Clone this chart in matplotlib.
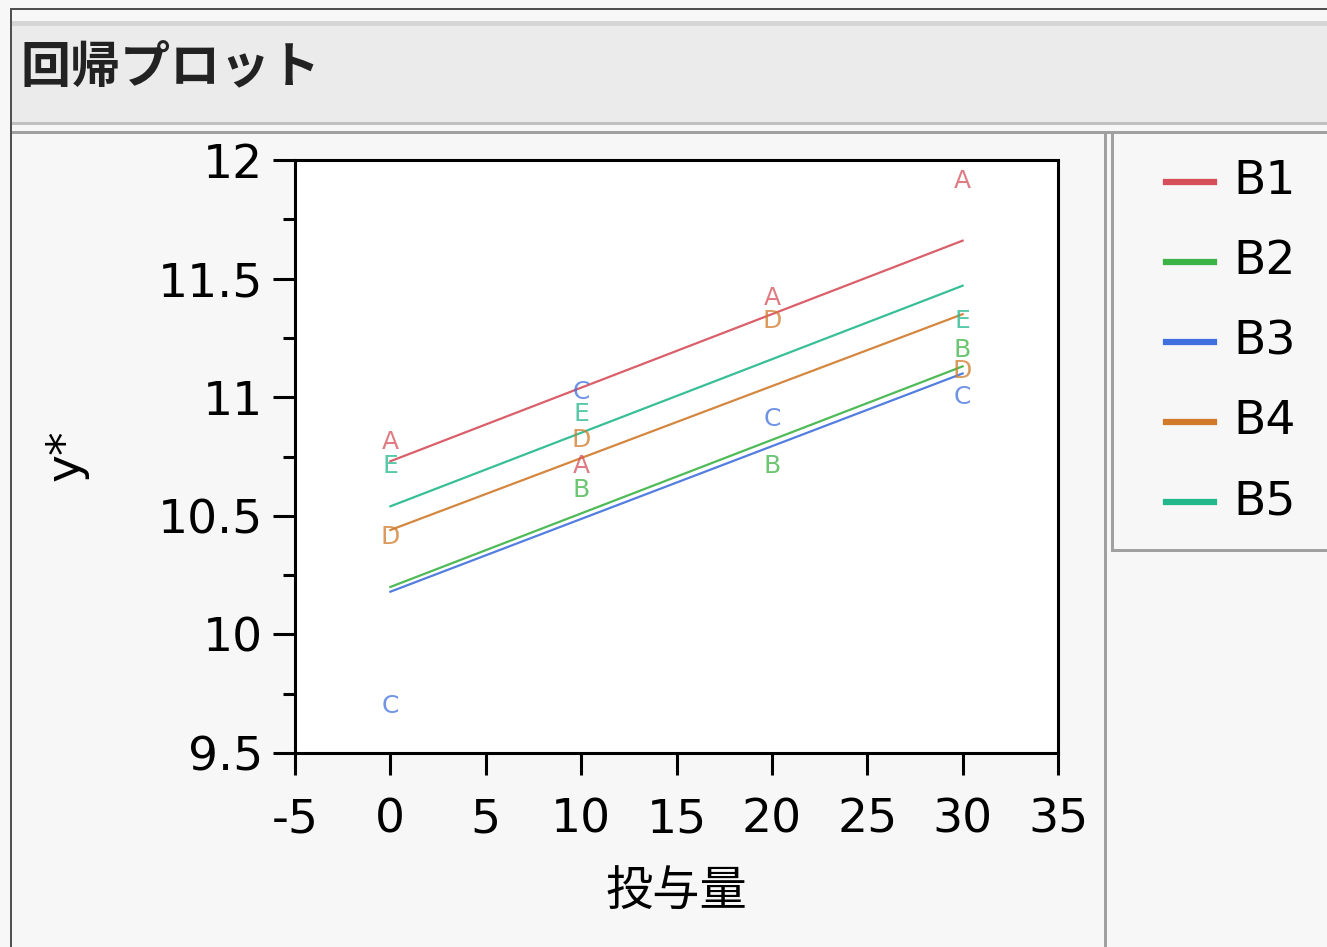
"""回帰プロット (JMP 風) の再現。"""

import numpy as np
import matplotlib
matplotlib.use("Agg")
import matplotlib.pyplot as plt  # noqa: E402
from matplotlib.patches import Rectangle  # noqa: E402
from matplotlib.lines import Line2D  # noqa: E402

plt.rcParams["font.family"] = ["DejaVu Sans", "Noto Sans CJK JP"]
plt.rcParams["axes.unicode_minus"] = False

# --- data ---
dose = [0, 10, 20, 30]
letters = ["A", "B", "C", "D", "E"]
y_A = [10.81, 10.71, 11.42, 11.91]
y_B = [np.nan, 10.61, 10.71, 11.20]
y_C = [9.70, 11.02, 10.91, 11.00]
y_D = [10.41, 10.82, 11.32, 11.11]
y_E = [10.71, 10.93, np.nan, 11.32]

blocks = ["B1", "B2", "B3", "B4", "B5"]
line_x = [0, 30]
fit_B1 = [10.73, 11.66]
fit_B2 = [10.20, 11.13]
fit_B3 = [10.18, 11.10]
fit_B4 = [10.44, 11.35]
fit_B5 = [10.54, 11.47]

colors = ["#d64e5a", "#3bb346", "#4070dd", "#d07a2a", "#22b88c"]

W, H = 1327, 947


def fx(x):
    return x / W


def fy(y):
    return 1 - y / H


def px_rect(fig, x0, y0, x1, y1, color):
    fig.add_artist(Rectangle((fx(x0), fy(y1)), (x1 - x0) / W, (y1 - y0) / H,
                             transform=fig.transFigure, facecolor=color,
                             edgecolor="none", zorder=0))


fig = plt.figure(figsize=(W / 100, H / 100), dpi=100)
fig.patch.set_facecolor("#f7f7f7")

# window frame / title bar
px_rect(fig, 10, 8, W, 10, "#505050")
px_rect(fig, 10, 8, 12, H, "#505050")
px_rect(fig, 12, 21, W, 26, "#d6d6d6")
px_rect(fig, 12, 26, W, 122, "#ebebeb")
px_rect(fig, 12, 122, W, 125, "#c0c0c0")
px_rect(fig, 12, 131, W, 134, "#a0a0a0")
px_rect(fig, 1104, 131, 1107, H, "#a0a0a0")
# legend box
px_rect(fig, 1111, 131, 1114, 552, "#a0a0a0")
px_rect(fig, 1111, 549, W, 552, "#a0a0a0")
fig.text(fx(20), fy(68), "回帰プロット", fontsize=36, fontweight="bold",
         family=["Noto Sans CJK JP"], va="center", ha="left", color="#222222")

ax = fig.add_axes([fx(295), fy(753), (1058 - 295) / W, (753 - 160) / H])
ax.set_facecolor("white")

fits = [fit_B1, fit_B2, fit_B3, fit_B4, fit_B5]
for fit, c in zip(fits, colors):
    ax.plot(line_x, fit, color=c, lw=1.6, alpha=0.9)

for lab, ys, c in zip(letters, [y_A, y_B, y_C, y_D, y_E], colors):
    for x, y in zip(dose, ys):
        if np.isnan(y):
            continue
        ax.text(x, y, lab, color=c, alpha=0.75, fontsize=18,
                ha="center", va="center")

ax.set_xlim(-5, 35)
ax.set_ylim(9.5, 12)
ax.set_xticks(np.arange(-5, 36, 5))
ax.set_yticks([9.5, 10, 10.5, 11, 11.5, 12])
ax.set_yticks(np.arange(9.75, 12, 0.5), minor=True)
ax.set_yticklabels(["9.5", "10", "10.5", "11", "11.5", "12"])
ax.tick_params(axis="both", which="major", length=16, width=2.2,
               labelsize=34, colors="black")
ax.tick_params(axis="y", which="minor", length=9, width=2.2)
ax.tick_params(axis="x", pad=16)
ax.tick_params(axis="y", pad=7)
for s in ax.spines.values():
    s.set_linewidth(2.2)

fig.text(fx(676), fy(893), "投与量", fontsize=34, family=["Noto Sans CJK JP"],
         ha="center", va="center")
fig.text(fx(66), fy(455), "y*", fontsize=34, rotation=90,
         ha="center", va="center")

# legend
for i, (b, c) in enumerate(zip(blocks, colors)):
    yy = fy(182 + 80 * i)
    fig.add_artist(Line2D([fx(1166), fx(1214)], [yy, yy], color=c, lw=4.5,
                          transform=fig.transFigure))
    fig.text(fx(1233), yy, b, fontsize=34, va="center", ha="left")

fig.savefig("out.png", dpi=100, facecolor=fig.get_facecolor())
